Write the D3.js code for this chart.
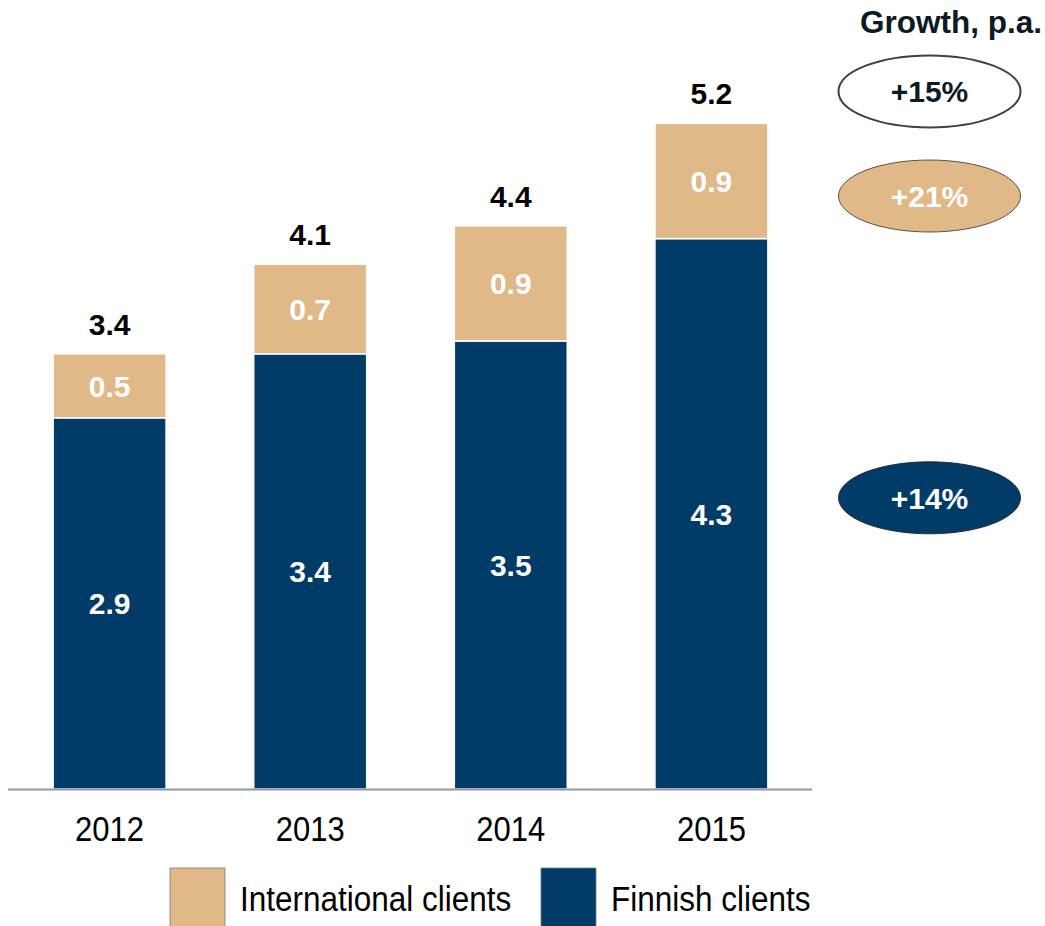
<!DOCTYPE html>
<html>
<head>
<meta charset="utf-8">
<script src="https://cdn.jsdelivr.net/npm/d3@7"></script>
<style>
  html, body { margin: 0; padding: 0; background: #fff; overflow: hidden; }
  svg { display: block; font-family: "Liberation Sans", Arial, sans-serif; }
</style>
</head>
<body>
<svg id="chart" width="1045" height="926"></svg>
<script>
// Revenue by client type, stacked per year
const years = ["2012", "2013", "2014", "2015"];
const finnish = [2.9, 3.4, 3.5, 4.3];
const international = [0.5, 0.7, 0.9, 0.9];
const totals = [3.4, 4.1, 4.4, 5.2];

// Annual growth badges
const growthLabels = ["+15%", "+21%", "+14%"];
const growthKinds = ["total", "international", "finnish"];

const seriesNames = ["International clients", "Finnish clients"];

const NAVY = "#013b68";
const TAN = "#e1b887";
const TALL = 1.12; // regular text is drawn slightly tall

const svg = d3.select("#chart");

const x = d3.scaleBand()
  .domain(years)
  .range([9, 812])
  .paddingInner(0.437)
  .paddingOuter(0.22);

const y = d3.scaleLinear().domain([0, 6]).range([789, 21]);

const rows = years.map((yr, i) => ({
  year: yr, finnish: finnish[i], international: international[i], total: totals[i]
}));

const stack = d3.stack().keys(["finnish", "international"]);
const layers = stack(rows);
const colors = { finnish: NAVY, international: TAN };

// Stacked bars
const g = svg.append("g");
layers.forEach(layer => {
  g.selectAll(null)
    .data(layer)
    .join("rect")
    .attr("x", d => x(d.data.year))
    .attr("width", x.bandwidth())
    .attr("y", d => y(d[1]))
    .attr("height", d => y(d[0]) - y(d[1]))
    .attr("fill", colors[layer.key])
    .attr("stroke", "#fff")
    .attr("stroke-width", 1.5);

  // Segment labels
  g.selectAll(null)
    .data(layer)
    .join("text")
    .attr("x", d => x(d.data.year) + x.bandwidth() / 2)
    .attr("y", d => (y(d[0]) + y(d[1])) / 2)
    .attr("dy", "0.36em")
    .attr("text-anchor", "middle")
    .attr("fill", "#fff")
    .attr("font-weight", "bold")
    .attr("font-size", 30)
    .text(d => d.data[layer.key].toFixed(1));
});

// Totals above bars
g.selectAll(null)
  .data(rows)
  .join("text")
  .attr("x", d => x(d.year) + x.bandwidth() / 2)
  .attr("y", d => y(d.total) - 19)
  .attr("text-anchor", "middle")
  .attr("fill", "#000")
  .attr("font-weight", "bold")
  .attr("font-size", 30)
  .text(d => d.total.toFixed(1));

// Baseline axis
const axis = svg.append("g")
  .attr("transform", `translate(0,${y(0)})`)
  .call(d3.axisBottom(x).tickSize(0).tickPadding(24));
axis.select(".domain")
  .attr("d", `M8,0.5H812`)
  .attr("stroke", "#8e97a8")
  .attr("stroke-width", 2);
axis.selectAll(".tick text")
  .attr("font-size", 31)
  .attr("font-family", "'Liberation Sans', Arial, sans-serif")
  .attr("fill", "#000")
  .attr("transform", `scale(1,${TALL})`);

// Growth column
svg.append("text")
  .attr("x", 1042)
  .attr("y", 33)
  .attr("text-anchor", "end")
  .attr("font-weight", "bold")
  .attr("font-size", 31.5)
  .attr("fill", "#0b1a24")
  .text("Growth, p.a.");

const badgeY = {
  total: y(5.2) - 32,
  international: (y(5.2) + y(4.3)) / 2 + 15,
  finnish: (y(4.3) + y(0)) / 2 - 16
};
const badgeStyle = {
  total: { fill: "#fff", stroke: "#404040", sw: 2, text: "#0b1a24" },
  international: { fill: TAN, stroke: "#5a5045", sw: 1, text: "#fff" },
  finnish: { fill: NAVY, stroke: "#2a2a2a", sw: 1, text: "#fff" }
};

const badges = svg.append("g").selectAll("g")
  .data(growthKinds.map((k, i) => ({ kind: k, label: growthLabels[i] })))
  .join("g")
  .attr("transform", d => `translate(929.5,${badgeY[d.kind]})`);

badges.append("ellipse")
  .attr("rx", 91)
  .attr("ry", 36)
  .attr("fill", d => badgeStyle[d.kind].fill)
  .attr("stroke", d => badgeStyle[d.kind].stroke)
  .attr("stroke-width", d => badgeStyle[d.kind].sw);

badges.append("text")
  .attr("text-anchor", "middle")
  .attr("dy", "0.36em")
  .attr("font-weight", "bold")
  .attr("font-size", 30)
  .attr("fill", d => badgeStyle[d.kind].text)
  .text(d => d.label);

// Legend
const legendItems = [
  { name: seriesNames[0], color: TAN, x: 170 },
  { name: seriesNames[1], color: NAVY, x: 541 }
];
const legend = svg.append("g").selectAll("g")
  .data(legendItems)
  .join("g")
  .attr("transform", d => `translate(${d.x},868)`);
legend.append("rect")
  .attr("width", 55)
  .attr("height", 62)
  .attr("fill", d => d.color)
  .attr("stroke", "#7a7a7a")
  .attr("stroke-width", 0.8);
legend.append("text")
  .attr("x", 70)
  .attr("y", 43 / TALL)
  .attr("transform", `scale(1,${TALL})`)
  .attr("font-size", 31.5)
  .attr("fill", "#000")
  .text(d => d.name);
</script>
</body>
</html>
